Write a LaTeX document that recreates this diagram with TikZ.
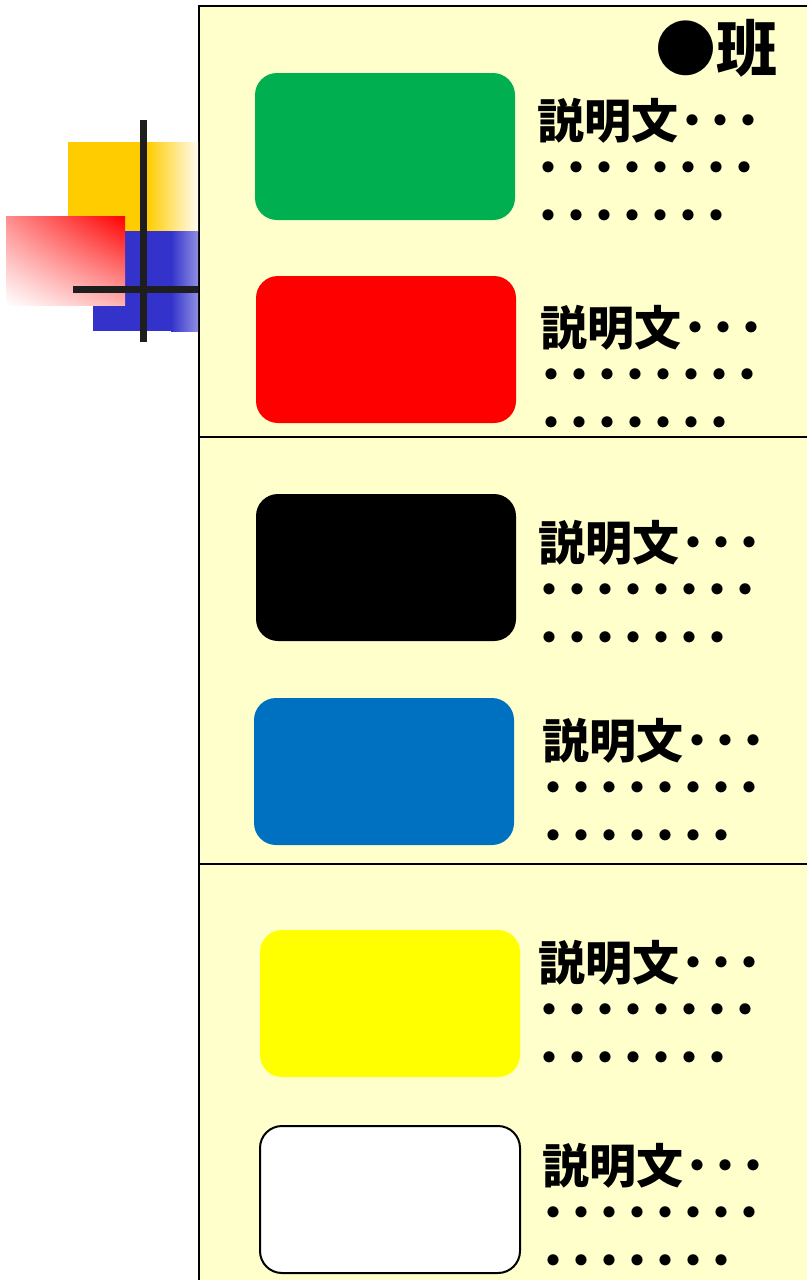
\documentclass[tikz,border=0pt]{standalone}
\usepackage{fontspec}
\usetikzlibrary{shadings}
\newfontfamily\jp{Noto Sans CJK JP}
\definecolor{panelbg}{HTML}{FFFFCC}
\definecolor{decoyellow}{HTML}{FFCC00}
\definecolor{decoblue}{HTML}{3333CC}
\definecolor{barblack}{HTML}{1E1E1E}
\definecolor{cgreen}{HTML}{00B050}
\definecolor{cred}{HTML}{FF0000}
\definecolor{cblue}{HTML}{0070C0}
\definecolor{cyellow}{HTML}{FFFF00}
\newcommand{\dt}{\makebox[28pt]{\fontsize{40pt}{40pt}\selectfont\raisebox{3pt}{・}}}
\newcommand{\dthree}{\dt\dt\dt}
\newcommand{\dseven}{\dt\dt\dt\dt\dt\dt\dt}
\newcommand{\descblock}[3]{%
  \node[desc] (#1-1) at (#2,#3) {説明文\dthree};
  \node[desc] (#1-2) at (#2-3,#3+47.5) {\dseven\dt};
  \node[desc] (#1-3) at (#2-3,#3+95) {\dseven};
}
\begin{document}
\begin{tikzpicture}[x=1pt,y=-1pt,
  cbox/.style={rounded corners=22pt, minimum width=260pt, minimum height=147pt, inner sep=0pt, line width=2pt},
  desc/.style={font=\jp\bfseries\fontsize{47pt}{47pt}\selectfont, inner sep=0pt, anchor=base west},
  bar/.style={fill=barblack},
  rule/.style={line width=1.5pt, black}]
\useasboundingbox (0,0) rectangle (807,1280);
% panel
\fill[panelbg] (199,6) rectangle (807,1280);
\draw[rule] (807,6) -- (199,6) -- (199,1280);
\draw[rule] (199,437) -- (807,437);
\draw[rule] (199,864) -- (807,864);
% decoration
\fill[decoyellow] (68,142) rectangle (148,231);
\shade[left color=decoyellow, right color=decoyellow!6!white] (147,142) rectangle (198,231);
\fill[decoblue] (93,231) rectangle (172,331);
\shade[left color=decoblue, right color=decoblue!55!white] (171,231) rectangle (198,331);
\shade[upper right=cred, upper left=cred!45!white, lower left=white, lower right=cred!30!white] (6,216) rectangle (125,305);
\fill[bar] (140,120) rectangle (147,342);
\fill[bar] (73,286) rectangle (198,293);
% title
\node[font=\jp\bfseries\fontsize{61pt}{61pt}\selectfont, inner sep=0pt, anchor=base east] (title) at (778,71) {●班};
% colour boxes
\node[cbox, fill=cgreen] (green) at (385,146.5) {};
\node[cbox, fill=cred] (red) at (386,349.5) {};
\node[cbox, fill=black] (black) at (386,567.5) {};
\node[cbox, fill=cblue] (blue) at (384,771.5) {};
\node[cbox, fill=cyellow] (yellow) at (390,1003.5) {};
\node[cbox, fill=white, draw=black] (white) at (390,1199.5) {};
% descriptions
\descblock{d1}{537}{138}
\descblock{d2}{540}{345}
\descblock{d3}{538}{560}
\descblock{d4}{542}{758}
\descblock{d5}{538}{980}
\descblock{d6}{542}{1183}
\end{tikzpicture}
\end{document}
